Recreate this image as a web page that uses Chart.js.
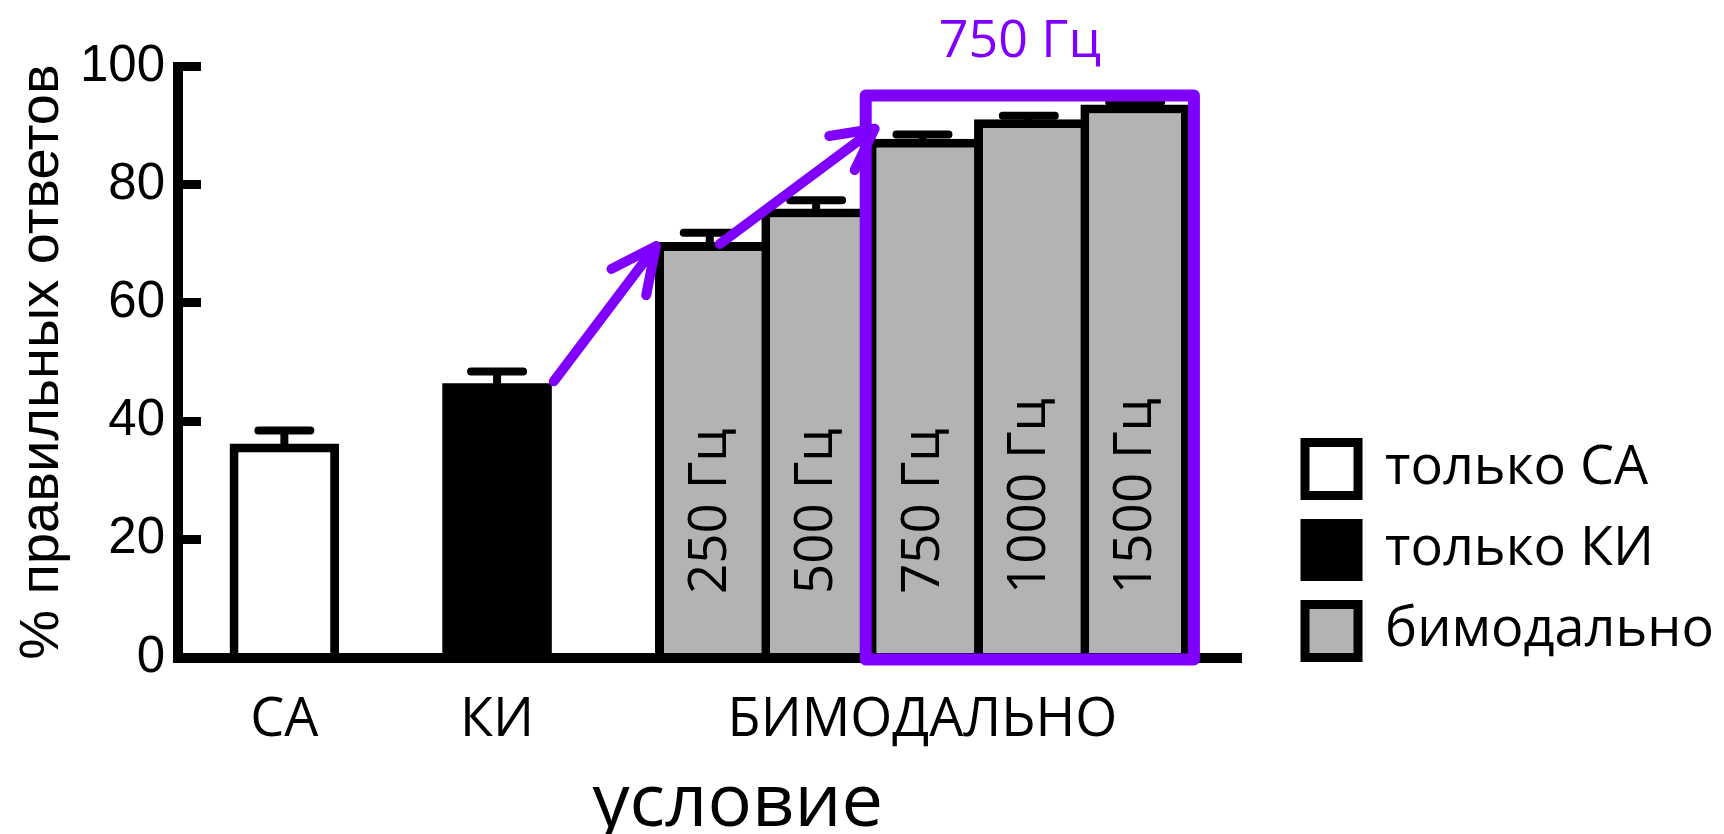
<!DOCTYPE html>
<html>
<head>
<meta charset="utf-8">
<script src="https://cdn.jsdelivr.net/npm/chart.js@4.4.1/dist/chart.umd.min.js"></script>
<style>
html, body { margin: 0; padding: 0; background: #ffffff; }
canvas { display: block; }
</style>
</head>
<body>
<canvas id="c" width="1724" height="834"></canvas>
<script>
// ---- data ----
const categories = ['', 'СА', '', 'КИ', '', '250 Гц', '500 Гц', '750 Гц', '1000 Гц', '1500 Гц', ''];
const axisLabels = ['', 'СА', '', 'КИ', '', '', '', 'БИМОДАЛЬНО', '', '', ''];
const onlySA  = [null, 36.2, null, null, null, null, null, null, null, null, null];
const onlyKI  = [null, null, null, 46.4, null, null, null, null, null, null, null];
const bimodal = [null, null, null, null, null, 70.3, 76.0, 87.8, 91.1, 93.6, null];
const errors  = [null, 2.2, null, 2.0, null, 1.6, 1.4, 0.7, 0.6, 0.4, null];
const seriesNames = ['только СА', 'только КИ', 'бимодально'];
const yTicks = [0, 20, 40, 60, 80, 100];
const xTitle = 'условие';
const yTitle = '% правильных ответов';
const boxedCategories = ['750 Гц', '1000 Гц', '1500 Гц'];
const boxTitle = '750 Гц';
const arrowSteps = [['КИ', '250 Гц'], ['250 Гц', '750 Гц']];

// ---- styles ----
const PURPLE = '#8000ff';
const GRAY = '#b3b3b3';
const BORDER = 9;

function barOf(chart, label) {
  const i = categories.indexOf(label);
  for (let d = 0; d < chart.data.datasets.length; d++) {
    const v = chart.data.datasets[d].data[i];
    if (v !== null && v !== undefined) {
      return chart.getDatasetMeta(d).data[i].getProps(['x', 'y', 'base', 'width'], true);
    }
  }
  return null;
}

function drawArrow(ctx, x1, y1, x2, y2, headLen, headAng) {
  const a = Math.atan2(y2 - y1, x2 - x1);
  ctx.beginPath();
  ctx.moveTo(x1, y1);
  ctx.lineTo(x2, y2);
  ctx.moveTo(x2 - headLen * Math.cos(a - headAng), y2 - headLen * Math.sin(a - headAng));
  ctx.lineTo(x2, y2);
  ctx.lineTo(x2 - headLen * Math.cos(a + headAng), y2 - headLen * Math.sin(a + headAng));
  ctx.stroke();
}

const errorBarsAndLabels = {
  id: 'errorBarsAndLabels',
  afterDatasetsDraw(chart) {
    const ctx = chart.ctx;
    const ys = chart.scales.y;
    ctx.save();
    ctx.strokeStyle = '#000';
    ctx.lineWidth = 8;
    ctx.lineCap = 'round';
    chart.data.datasets.forEach((ds, d) => {
      const meta = chart.getDatasetMeta(d);
      ds.data.forEach((v, i) => {
        if (v === null || v === undefined || errors[i] === null) return;
        const el = meta.data[i].getProps(['x', 'y', 'width'], true);
        const yT = ys.getPixelForValue(v + errors[i]);
        ctx.beginPath();
        ctx.moveTo(el.x, el.y);
        ctx.lineTo(el.x, yT);
        ctx.moveTo(el.x - 26, yT);
        ctx.lineTo(el.x + 26, yT);
        ctx.stroke();
      });
    });
    const meta = chart.getDatasetMeta(2);
    ctx.fillStyle = '#000';
    ctx.font = '53px "Open Sans"';
    ctx.textAlign = 'left';
    ctx.textBaseline = 'middle';
    bimodal.forEach((v, i) => {
      if (v === null) return;
      const el = meta.data[i].getProps(['x', 'base'], true);
      ctx.save();
      ctx.translate(el.x + 1, el.base - 63);
      ctx.rotate(-Math.PI / 2);
      ctx.fillText(categories[i], 0, 0);
      ctx.restore();
    });
    ctx.restore();
  }
};

const annotations = {
  id: 'annotations',
  afterDraw(chart) {
    const ctx = chart.ctx;
    const area = chart.chartArea;
    ctx.save();
    // x axis title
    ctx.fillStyle = '#000';
    ctx.font = '74px "Open Sans"';
    ctx.textAlign = 'center';
    ctx.textBaseline = 'alphabetic';
    ctx.fillText(xTitle, (area.left + area.right) / 2 + 28, area.bottom + 168);

    const first = barOf(chart, boxedCategories[0]);
    const last = barOf(chart, boxedCategories[boxedCategories.length - 1]);
    const left = first.x - first.width / 2 - 2;
    const right = last.x + last.width / 2 + 4;
    const top = last.y - 9;
    const bottom = first.base + 2.5;
    ctx.strokeStyle = PURPLE;
    ctx.lineWidth = 12;
    ctx.lineJoin = 'round';
    ctx.strokeRect(left, top, right - left, bottom - top);

    ctx.fillStyle = PURPLE;
    ctx.font = '52px "Open Sans"';
    ctx.textAlign = 'center';
    ctx.textBaseline = 'alphabetic';
    ctx.fillText(boxTitle, (left + right) / 2 - 10, top - 38);

    ctx.lineWidth = 10;
    ctx.lineCap = 'round';
    const a0 = barOf(chart, arrowSteps[0][0]);
    const a1 = barOf(chart, arrowSteps[0][1]);
    drawArrow(ctx, a0.x + a0.width / 2 + 2, a0.y - 2, a1.x - a1.width / 2 + 1, a1.y + 4, 50, 0.45);
    const b0 = barOf(chart, arrowSteps[1][0]);
    const b1 = barOf(chart, arrowSteps[1][1]);
    drawArrow(ctx, b0.x + 10, b0.y + 2, b1.x - b1.width / 2 + 7, b1.y - 10, 46, 0.48);
    ctx.restore();
  }
};

const barBorder = { top: BORDER, left: BORDER, right: BORDER, bottom: 0 };

new Chart(document.getElementById('c'), {
  type: 'bar',
  data: {
    labels: categories,
    datasets: [
      { label: seriesNames[0], data: onlySA, backgroundColor: '#ffffff', borderColor: '#000', borderWidth: barBorder },
      { label: seriesNames[1], data: onlyKI, backgroundColor: '#000000', borderColor: '#000', borderWidth: 0 },
      { label: seriesNames[2], data: bimodal, backgroundColor: GRAY, borderColor: '#000',
        borderWidth: (c) => {
          const next = c.dataset.data[c.dataIndex + 1];
          return { top: BORDER, left: BORDER, bottom: 0, right: (next === null || next === undefined) ? BORDER : 0 };
        } }
    ]
  },
  options: {
    responsive: false,
    animation: false,
    devicePixelRatio: 1,
    barPercentage: 1.03,
    categoryPercentage: 1,
    layout: { padding: { top: 65, right: 0, bottom: 0, left: 0 } },
    plugins: {
      tooltip: { enabled: false },
      legend: {
        position: 'right',
        align: 'start',
        maxWidth: 1000,
        title: { display: true, text: ' ', font: { size: 10, lineHeight: 1 }, padding: { top: 340, bottom: 0 } },
        labels: {
          boxWidth: 53,
          boxHeight: 53,
          padding: 27,
          color: '#000',
          font: { family: 'Open Sans', size: 54 },
          generateLabels: (chart) => chart.data.datasets.map((ds, i) => ({
            text: ds.label,
            fillStyle: ds.backgroundColor,
            strokeStyle: '#000',
            fontColor: '#000',
            lineWidth: BORDER,
            hidden: false,
            datasetIndex: i
          }))
        }
      }
    },
    scales: {
      x: {
        stacked: true,
        offset: false,
        afterFit: (s) => { s.height = 176.5; },
        border: { display: true, width: 10, color: '#000', z: 1 },
        grid: { display: false, drawTicks: false },
        ticks: {
          color: '#000', autoSkip: false, maxRotation: 0, minRotation: 0, padding: 31,
          font: { family: 'Open Sans', size: 54 },
          callback: (v, i) => axisLabels[i]
        },
        title: { display: false }
      },
      y: {
        stacked: true,
        min: 0, max: 100,
        afterFit: (s) => { s.width = 178; },
        afterBuildTicks: (s) => { s.ticks = yTicks.map(v => ({ value: v })); },
        border: { display: true, width: 10, color: '#000', z: 1 },
        grid: { display: true, drawOnChartArea: false, drawTicks: true, tickLength: -23, tickWidth: 9, tickColor: '#000', color: '#000' },
        ticks: { color: '#000', padding: 36, font: { family: 'Liberation Sans', size: 51 } },
        title: { display: true, text: yTitle, color: '#000',
          font: { family: 'Liberation Sans', size: 56 }, padding: { top: 9, bottom: 0 } }
      },
      y2: {
        position: 'right',
        display: true,
        afterFit: (s) => { s.width = 36.5; },
        grid: { display: false, drawTicks: false },
        border: { display: false },
        ticks: { display: false }
      }
    }
  },
  plugins: [errorBarsAndLabels, annotations]
});
</script>
</body>
</html>
